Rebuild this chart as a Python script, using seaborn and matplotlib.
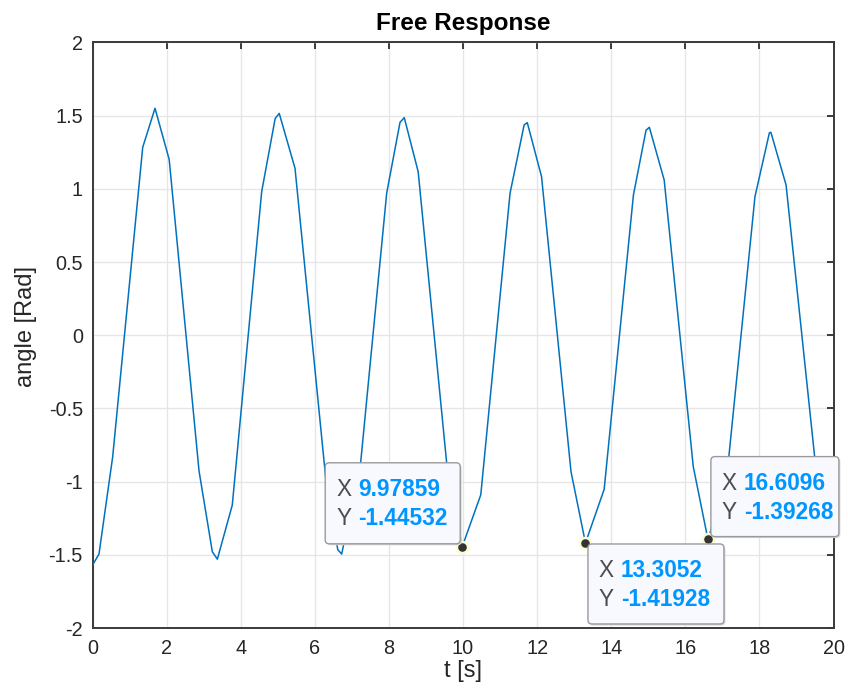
import numpy as np
import pandas as pd
import matplotlib
matplotlib.use("Agg")
import matplotlib.pyplot as plt
import seaborn as sns
from matplotlib.patches import FancyBboxPatch
from matplotlib.transforms import IdentityTransform

# ---- data ----
t_s = [0, 0.175, 0.545, 1.355, 1.687, 2.07, 2.875, 3.234, 3.37, 3.773,
       4.566, 4.93, 5.04, 5.466, 6.30, 6.62, 6.726, 7.24, 7.94, 8.30,
       8.415, 8.79, 9.56, 9.97859, 10.48, 11.27, 11.65, 11.735, 12.12, 12.915,
       13.3052, 13.81, 14.60, 14.94, 15.03, 15.43, 16.215, 16.6096, 17.10, 17.88,
       18.27, 18.31, 18.72, 19.52, 19.95]
angle = [-1.571, -1.495, -0.83, 1.283, 1.55, 1.20, -0.927, -1.479, -1.53, -1.16,
         0.98, 1.48, 1.515, 1.14, -0.99, -1.465, -1.495, -0.864, 0.97, 1.454,
         1.486, 1.117, -0.875, -1.44532, -1.09, 0.97, 1.436, 1.452, 1.083, -0.932,
         -1.41928, -1.053, 0.958, 1.40, 1.42, 1.06, -0.898, -1.39268, -1.02, 0.946,
         1.383, 1.386, 1.026, -0.90, -1.33]

tip_x = [9.97859, 13.3052, 16.6096]
tip_y = [-1.44532, -1.41928, -1.39268]
tip_x_txt = ["9.97859", "13.3052", "16.6096"]
tip_y_txt = ["-1.44532", "-1.41928", "-1.39268"]

xticks = [0, 2, 4, 6, 8, 10, 12, 14, 16, 18, 20]
yticks = [-2, -1.5, -1, -0.5, 0, 0.5, 1, 1.5, 2]
ytick_labels = ["-2", "-1.5", "-1", "-0.5", "0", "0.5", "1", "1.5", "2"]

df = pd.DataFrame({"t": t_s, "angle": angle})

sns.set_style("white")
plt.rcParams["font.family"] = ["Liberation Sans", "DejaVu Sans"]

W, H = 848, 698
fig = plt.figure(figsize=(W / 100, H / 100), dpi=100)
L, R, T, B = 92.5, 833.5, 42.4, 628.0
ax = fig.add_axes([L / W, 1 - B / H, (R - L) / W, (B - T) / H])

sns.lineplot(data=df, x="t", y="angle", ax=ax, sort=False, estimator=None,
             color="#0072BD", linewidth=1.1, zorder=3)

ax.set_xlim(0, 20)
ax.set_ylim(-2, 2)
ax.set_xticks(xticks)
ax.set_xticklabels([str(v) for v in xticks])
ax.set_yticks(yticks)
ax.set_yticklabels(ytick_labels)
ax.grid(True, color="#e6e6e6", linewidth=1.0, zorder=0)
ax.set_axisbelow(True)

dark = "#262626"
for s in ax.spines.values():
    s.set_color("#3a3a3a")
    s.set_linewidth(1.4)
    s.set_visible(True)
ax.tick_params(direction="in", length=5, width=1.4, color="#3a3a3a", labelcolor=dark,
               labelsize=14.3, top=True, right=True)
ax.tick_params(axis="x", pad=8)
ax.tick_params(axis="y", pad=7)

ax.set_title("Free Response", fontsize=17.5, fontweight="bold", color="#000000", pad=9)
ax.set_xlabel("t [s]", fontsize=17, color=dark)
ax.set_ylabel("angle [Rad]", fontsize=17, color=dark)
# label anchor positions (axes fraction)
ax.xaxis.set_label_coords(0.5, -0.054)
ax.yaxis.set_label_coords(-0.075, 0.515)

# ---- data tips ----
ax.plot(tip_x, tip_y, linestyle="none", marker="o", markersize=8,
        markerfacecolor="#333333", markeredgecolor="#fdfbd0", markeredgewidth=1.8,
        zorder=6)

# box placement relative to the tip point (image pixels: left, top offsets, width, height)
box_geo = [(-137, -84, 135, 81), (2.5, 1, 136, 80), (3, -82.5, 128, 80)]

for xv, yv, xs, ys, (dl, dt, bw, bh) in zip(tip_x, tip_y, tip_x_txt, tip_y_txt, box_geo):
    px, py = ax.transData.transform((xv, yv))  # display coords (origin bottom-left)
    left = px + dl
    top = py - dt
    bottom = top - bh
    shadow = FancyBboxPatch((left + 1.5, bottom - 1.5), bw, bh,
                            boxstyle="round,pad=0,rounding_size=4",
                            transform=IdentityTransform(), facecolor="#d8d8d8",
                            edgecolor="none", zorder=7, clip_on=False)
    fig.add_artist(shadow)
    box = FancyBboxPatch((left, bottom), bw, bh,
                         boxstyle="round,pad=0,rounding_size=4",
                         transform=IdentityTransform(), facecolor="#f8f8ff",
                         edgecolor="#9a9a9a", linewidth=1.0, zorder=8, clip_on=False)
    fig.add_artist(box)
    for row, (lab, val) in enumerate([("X", xs), ("Y", ys)]):
        cy = top - (27 if row == 0 else 56)
        fig.text((left + 11) / W, cy / H, lab, fontsize=16.3, color="#4d4d4d",
                 va="center", ha="left", zorder=9)
        fig.text((left + 33) / W, cy / H, val, fontsize=16.3, color="#0096ff",
                 fontweight="bold", va="center", ha="left", zorder=9)

fig.savefig("out.png", dpi=100)
